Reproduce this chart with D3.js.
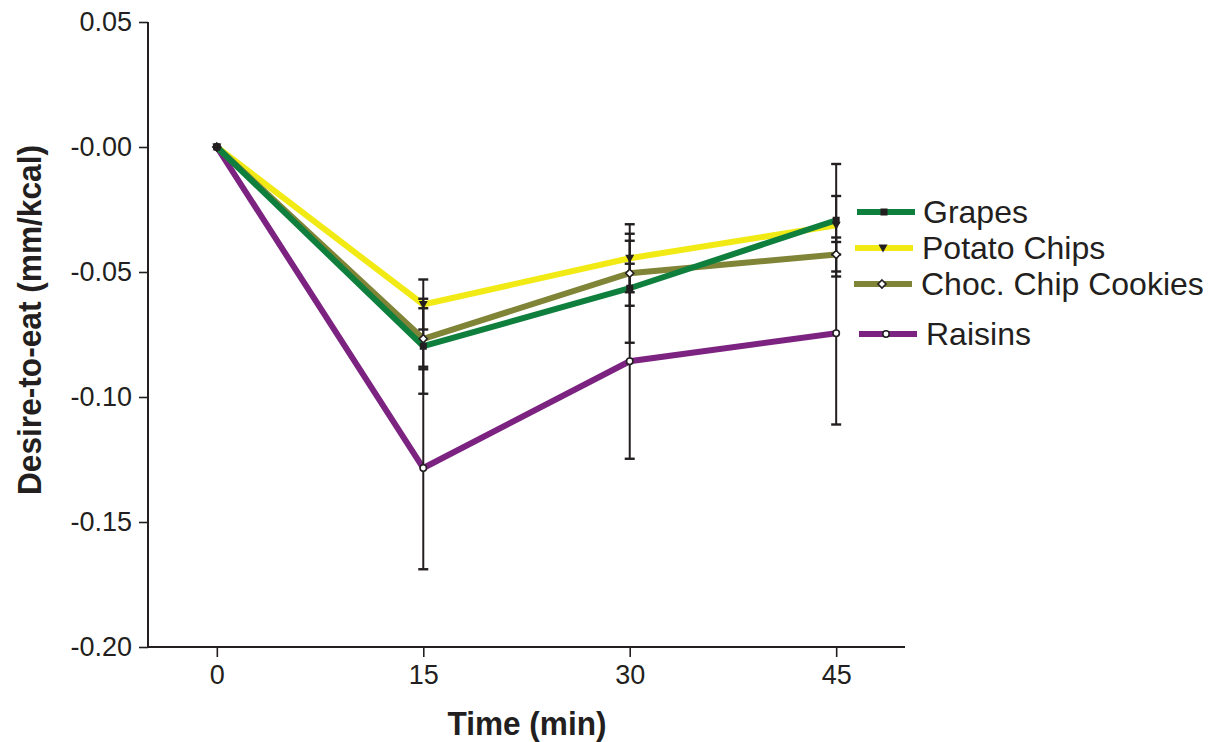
<!DOCTYPE html>
<html>
<head>
<meta charset="utf-8">
<script src="https://cdn.jsdelivr.net/npm/d3@7/dist/d3.min.js"></script>
<style>
  html, body { margin: 0; padding: 0; background: #ffffff; }
  svg { display: block; }
  text { font-family: Arial, "Liberation Sans", Helvetica, sans-serif; fill: #231f20; }
</style>
</head>
<body>
<svg id="chart" width="1216" height="742"></svg>
<script>
// ---- data ----
const times = [0, 15, 30, 45];
const xTickLabels = ["0", "15", "30", "45"];
const yTickValues = [0.05, 0.0, -0.05, -0.10, -0.15, -0.20];
const yTickLabels = ["0.05", "-0.00", "-0.05", "-0.10", "-0.15", "-0.20"];

const seriesNames = ["Grapes", "Potato Chips", "Choc. Chip Cookies", "Raisins"];
const grapesValues  = [0, -0.0797, -0.0565, -0.0293];
const grapesErr     = [0, 0.019, 0.0218, 0.0225];
const chipsValues   = [0, -0.0630, -0.0445, -0.0313];
const chipsErr      = [0, 0.0100, 0.0136, 0.0117];
const cookiesValues = [0, -0.0767, -0.0505, -0.0430];
const cookiesErr    = [0, 0.0122, 0.0130, 0.0068];
const raisinsValues = [0, -0.1284, -0.0857, -0.0745];
const raisinsErr    = [0, 0.0405, 0.0390, 0.0365];

const colors = ["#0f7f3e", "#f2ea14", "#808436", "#7c2381"];
const markers = ["square", "triangle", "diamond", "circle"];

const series = [
  {name: seriesNames[0], values: grapesValues,  err: grapesErr,   color: colors[0], marker: markers[0]},
  {name: seriesNames[1], values: chipsValues,   err: chipsErr,    color: colors[1], marker: markers[1]},
  {name: seriesNames[2], values: cookiesValues, err: cookiesErr,  color: colors[2], marker: markers[2]},
  {name: seriesNames[3], values: raisinsValues, err: raisinsErr,  color: colors[3], marker: markers[3]}
];

// ---- scales ----
const svg = d3.select("#chart");
const x = d3.scaleLinear().domain([-5, 50]).range([148, 905]);
const y = d3.scaleLinear().domain([-0.20, 0.05]).range([647, 22]);
const ink = "#231f20";

// ---- axes ----
const yAxis = d3.axisLeft(y).tickValues(yTickValues)
  .tickFormat((d, i) => yTickLabels[i]).tickSize(9).tickPadding(7);
const gy = svg.append("g").attr("transform", `translate(${x(-5)},0)`).call(yAxis);
gy.select(".domain").attr("d", `M0,${y(0.05)}V${y(-0.20)}`).attr("stroke", ink).attr("stroke-width", 2);
gy.selectAll(".tick line").attr("stroke", ink).attr("stroke-width", 1.6);
gy.selectAll(".tick text").attr("font-size", 27).attr("fill", ink)
  .attr("font-family", "Arial, 'Liberation Sans', sans-serif");

const xAxis = d3.axisBottom(x).tickValues(times)
  .tickFormat((d, i) => xTickLabels[i]).tickSize(10).tickPadding(8);
const gx = svg.append("g").attr("transform", `translate(0,${y(-0.20)})`).call(xAxis);
gx.select(".domain").attr("d", `M${x(-5)},0H${x(50)}`).attr("stroke", ink).attr("stroke-width", 2);
gx.selectAll(".tick line").attr("stroke", ink).attr("stroke-width", 1.6);
gx.selectAll(".tick text").attr("font-size", 27).attr("fill", ink)
  .attr("font-family", "Arial, 'Liberation Sans', sans-serif");

// ---- axis titles ----
svg.append("text")
  .attr("x", 527).attr("y", 735)
  .attr("text-anchor", "middle")
  .attr("font-size", 34).attr("font-weight", "bold")
  .attr("textLength", 159).attr("lengthAdjust", "spacingAndGlyphs")
  .text("Time (min)");

svg.append("text")
  .attr("transform", "translate(41,320) rotate(-90)")
  .attr("text-anchor", "middle")
  .attr("font-size", 33).attr("font-weight", "bold")
  .attr("textLength", 350).attr("lengthAdjust", "spacingAndGlyphs")
  .text("Desire-to-eat (mm/kcal)");

// ---- lines (drawn raisins first, grapes last) ----
const line = d3.line().x((d, i) => x(times[i])).y(d => y(d));
const drawOrder = [3, 1, 2, 0];
drawOrder.forEach(k => {
  const s = series[k];
  svg.append("path")
    .attr("d", line(s.values))
    .attr("fill", "none")
    .attr("stroke", s.color)
    .attr("stroke-width", 6)
    .attr("stroke-linejoin", "miter");
});

// ---- error bars ----
const capW = 5;
series.forEach(s => {
  s.values.forEach((v, i) => {
    if (!s.err[i]) return;
    const cx = x(times[i]);
    const y1 = y(v + s.err[i]), y2 = y(v - s.err[i]);
    const g = svg.append("g").attr("stroke", ink);
    g.append("line").attr("x1", cx).attr("x2", cx).attr("y1", y1).attr("y2", y2).attr("stroke-width", 2);
    g.append("line").attr("x1", cx - capW).attr("x2", cx + capW).attr("y1", y1).attr("y2", y1).attr("stroke-width", 2.4);
    g.append("line").attr("x1", cx - capW).attr("x2", cx + capW).attr("y1", y2).attr("y2", y2).attr("stroke-width", 2.4);
  });
});

// ---- markers ----
function drawMarker(g, type, cx, cy) {
  if (type === "square") {
    g.append("rect").attr("x", cx - 3.5).attr("y", cy - 3.5).attr("width", 7).attr("height", 7)
      .attr("fill", ink);
  } else if (type === "triangle") {
    g.append("path").attr("d", `M${cx - 4.5},${cy - 3.5}L${cx + 4.5},${cy - 3.5}L${cx},${cy + 4.5}Z`)
      .attr("fill", ink);
  } else if (type === "diamond") {
    g.append("path").attr("d", `M${cx},${cy - 4}L${cx + 4},${cy}L${cx},${cy + 4}L${cx - 4},${cy}Z`)
      .attr("fill", "#ffffff").attr("stroke", ink).attr("stroke-width", 1.6);
  } else {
    g.append("circle").attr("cx", cx).attr("cy", cy).attr("r", 3.2)
      .attr("fill", "#ffffff").attr("stroke", ink).attr("stroke-width", 1.6);
  }
}
const markerOrder = [3, 2, 1, 0];
markerOrder.forEach(k => {
  const s = series[k];
  const g = svg.append("g");
  s.values.forEach((v, i) => drawMarker(g, s.marker, x(times[i]), y(v)));
});

// ---- legend ----
const legendRows = [
  {x1: 857, x2: 915, y: 212, mx: 884, tx: 923},
  {x1: 855, x2: 913, y: 248, mx: 883, tx: 922},
  {x1: 854, x2: 912, y: 284, mx: 882, tx: 921},
  {x1: 859, x2: 917, y: 334, mx: 886, tx: 926}
];
series.forEach((s, k) => {
  const r = legendRows[k];
  const g = svg.append("g");
  g.append("line").attr("x1", r.x1).attr("x2", r.x2).attr("y1", r.y).attr("y2", r.y)
    .attr("stroke", s.color).attr("stroke-width", 6);
  drawMarker(g, s.marker, r.mx, r.y);
  g.append("text").attr("x", r.tx).attr("y", r.y + 11)
    .attr("font-size", 32).attr("fill", ink).text(s.name);
});
</script>
</body>
</html>
